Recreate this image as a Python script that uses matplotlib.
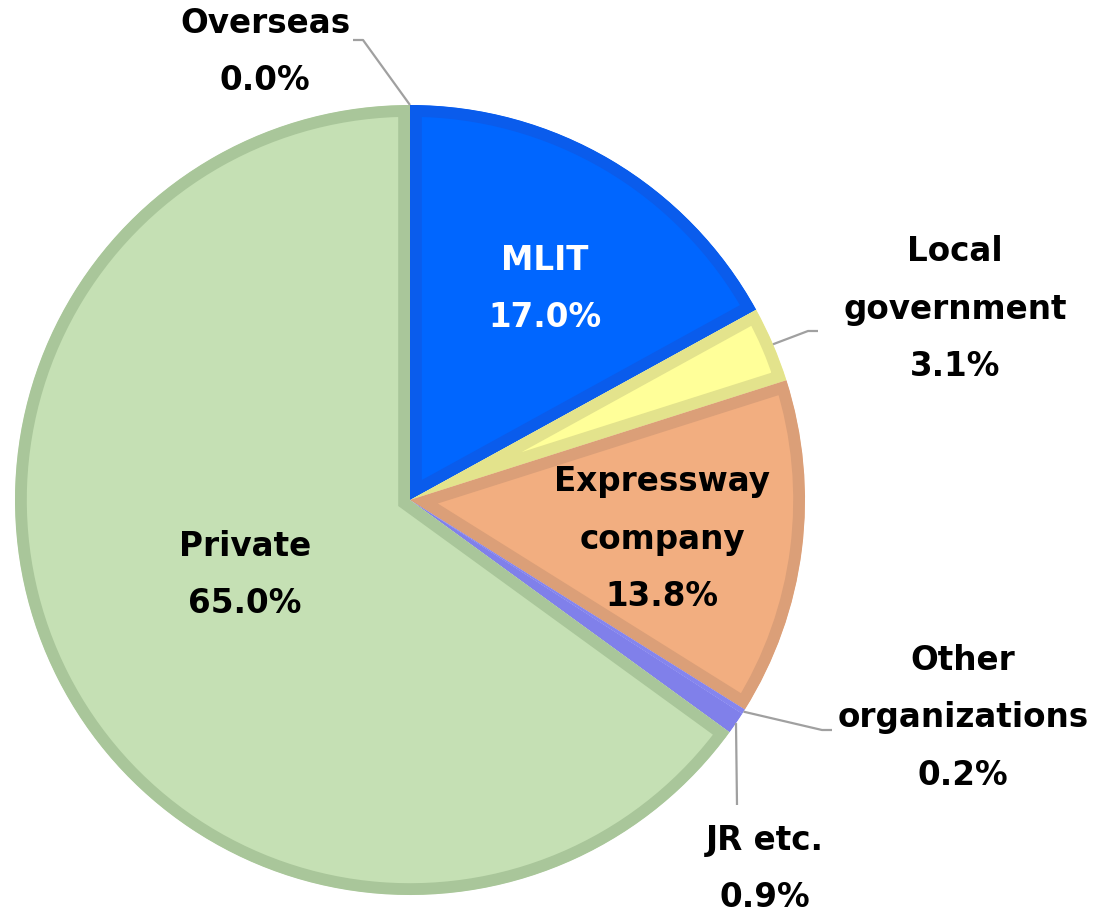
import numpy as np
import matplotlib
matplotlib.use("Agg")
import matplotlib.pyplot as plt

# clockwise from 12 o'clock
names = ["MLIT", "Local\ngovernment", "Expressway\ncompany", "Other\norganizations",
         "JR etc.", "Private", "Overseas"]
shares = [17.0, 3.1, 13.8, 0.2, 0.9, 65.0, 0.0]
fills = ["#0066FF", "#FFFF99", "#F2AE80", "#9999FF", "#8F8FF0", "#C5E0B4", "#BBBBBB"]
edges = ["#0A5CEC", "#E3E38C", "#DB9F78", "#8585EE", "#8080EA", "#A9C69A", "#AAAAAA"]

W, H = 1094, 915
fig = plt.figure(figsize=(W / 100, H / 100), dpi=100)
ax = fig.add_axes([0, 0, 1, 1])

cx, cy, R = 410, 500, 395
# y axis is flipped, so counterclockwise in data = clockwise on screen
wedges, _ = ax.pie(shares, colors=fills, startangle=-90, counterclock=True,
                   center=(cx, cy), radius=R, frame=True,
                   wedgeprops=dict(linewidth=17))
for w, ec, s in zip(wedges, edges, shares):
    w.set_edgecolor(ec)
    # border only on the inside of each slice
    w.set_clip_on(True)
    w.set_clip_path(w)
    if s == 0:
        w.set_linewidth(0)
ax.set_xlim(0, W)
ax.set_ylim(H, 0)
ax.set_aspect("equal")
ax.axis("off")

font = dict(fontsize=23.5, fontweight="bold", family="DejaVu Sans",
            ha="center", va="center", linespacing=1.93)


def edge_point(i):
    w = wedges[i]
    a = np.deg2rad((w.theta1 + w.theta2) / 2)
    return cx + R * np.cos(a), cy + R * np.sin(a)


def label(i, x, y, color="black"):
    ax.text(x, y, f"{names[i]}\n{shares[i]:.1f}%", color=color, **font)


def leader(i, pts):
    x0, y0 = edge_point(i)
    xs = [x0] + [p[0] for p in pts]
    ys = [y0] + [p[1] for p in pts]
    ax.plot(xs, ys, color="#A0A0A0", lw=1.6, solid_capstyle="butt", zorder=5)


label(0, 545, 289, "white")
label(1, 955, 309)
label(2, 662, 539)
label(3, 963, 718)
label(4, 765, 869)
label(5, 245, 575)
label(6, 265, 52)

leader(6, [(363, 40), (353, 40)])
leader(1, [(808, 331), (818, 331)])
leader(3, [(822, 730), (832, 730)])
leader(4, [(737, 805)])

fig.savefig("out.png", dpi=100)
